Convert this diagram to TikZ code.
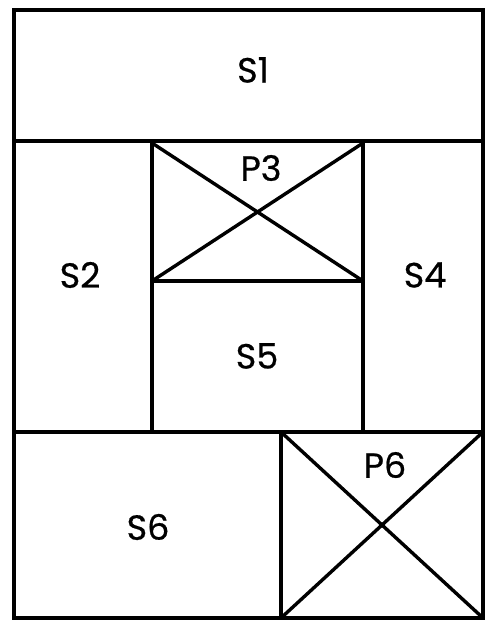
\documentclass[tikz,border=0pt]{standalone}
\usepackage{fontspec}
\setmainfont{Poppins}
\newfontfamily\lblfont{Poppins}[FakeBold=0.6]
\begin{document}
\begin{tikzpicture}[x=1pt,y=-1pt,
  outer/.style={line width=4.4pt},
  inner/.style={line width=3.4pt},
  lbl/.style={font=\lblfont\fontsize{35}{35}\selectfont, inner sep=0pt, anchor=center}]
\useasboundingbox (0,0) rectangle (486,620);
% key coordinates
\coordinate (TL) at (14,10);
\coordinate (BR) at (483,618);
% lines
\draw[inner] (14,141) -- (483,141);
\draw[inner] (14,432) -- (483,432);
\draw[inner] (152,141) -- (152,432);
\draw[inner] (363,141) -- (363,432);
\draw[inner] (152,281) -- (363,281);
\draw[inner] (281,432) -- (281,618);
% crosses
\coordinate (p3a) at (152,143); \coordinate (p3b) at (363,143);
\coordinate (p3c) at (152,281); \coordinate (p3d) at (363,281);
\draw[inner] (p3a) -- (p3d);
\draw[inner] (p3b) -- (p3c);
\coordinate (p6a) at (281,432); \coordinate (p6b) at (483,432);
\coordinate (p6c) at (281,618); \coordinate (p6d) at (483,618);
\draw[inner] (p6a) -- (p6d);
\draw[inner] (p6b) -- (p6c);
\draw[outer] (TL) rectangle (BR);
% labels
\node[lbl] (s1) at (253,70) {S1};
\node[lbl] (s2) at (80,275) {S2};
\node[lbl] (p3) at (261,168) {P3};
\node[lbl] (s4) at (425,275) {S4};
\node[lbl] (s5) at (257,356) {S5};
\node[lbl] (s6) at (148,527) {S6};
\node[lbl] (p6) at (385,465) {P6};
\end{tikzpicture}
\end{document}
